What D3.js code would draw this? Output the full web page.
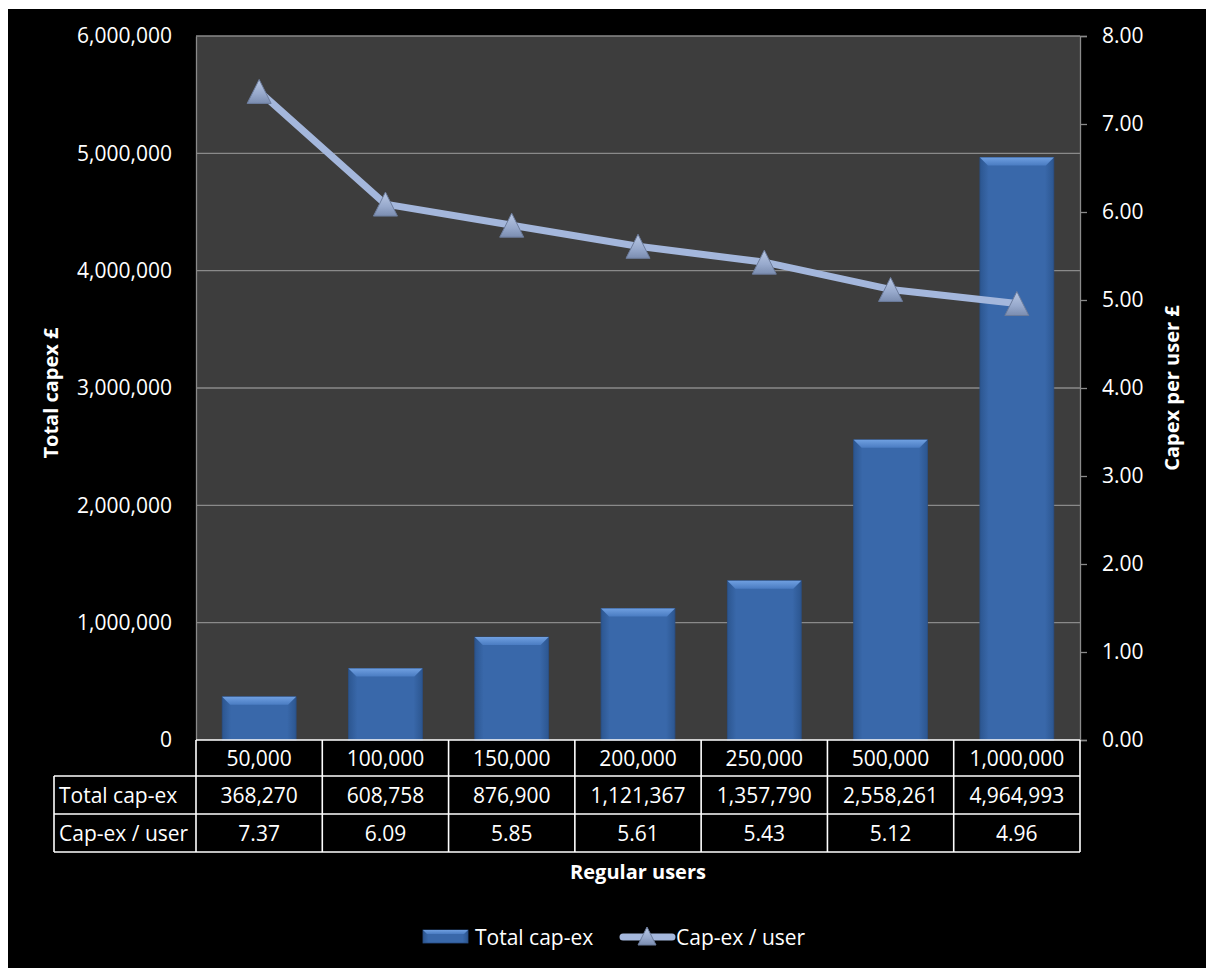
<!DOCTYPE html>
<html>
<head>
<meta charset="utf-8">
<script src="https://cdn.jsdelivr.net/npm/d3@7"></script>
<style>
  html, body { margin: 0; padding: 0; background: #fff; }
  svg { display: block; }
  text { font-family: 'Open Sans', sans-serif; fill: #fff; }
</style>
</head>
<body>
<svg id="svg" width="1206" height="968"></svg>
<script>
const categories = ['50,000', '100,000', '150,000', '200,000', '250,000', '500,000', '1,000,000'];
const totalCapex = [368270, 608758, 876900, 1121367, 1357790, 2558261, 4964993];
const capexPerUser = [7.37, 6.09, 5.85, 5.61, 5.43, 5.12, 4.96];
const leftTicks = [0, 1000000, 2000000, 3000000, 4000000, 5000000, 6000000];
const rightTicks = [0, 1, 2, 3, 4, 5, 6, 7, 8];
const rowLabels = ['Total cap-ex', 'Cap-ex / user'];

const svg = d3.select('#svg');
const plot = { left: 196, right: 1080, top: 36, bottom: 740 };

const fmtInt = d3.format(',');
const fmt2 = d3.format('.2f');

// background
svg.append('rect').attr('x', 8).attr('y', 9).attr('width', 1198).attr('height', 959).attr('fill', '#000');

const defs = svg.append('defs');
const barGrad = defs.append('linearGradient').attr('id', 'barGrad').attr('x1', 0).attr('x2', 1).attr('y1', 0).attr('y2', 0);
barGrad.append('stop').attr('offset', 0).attr('stop-color', '#2c5690');
barGrad.append('stop').attr('offset', 0.12).attr('stop-color', '#3968aa');
barGrad.append('stop').attr('offset', 0.88).attr('stop-color', '#3968aa');
barGrad.append('stop').attr('offset', 1).attr('stop-color', '#2c5690');

const bevelGrad = defs.append('linearGradient').attr('id', 'bevelGrad').attr('x1', 0).attr('x2', 0).attr('y1', 0).attr('y2', 1);
bevelGrad.append('stop').attr('offset', 0).attr('stop-color', '#6f9fe0');
bevelGrad.append('stop').attr('offset', 1).attr('stop-color', '#4a7cc2');

const triGrad = defs.append('linearGradient').attr('id', 'triGrad').attr('x1', 0).attr('x2', 0).attr('y1', 0).attr('y2', 1);
triGrad.append('stop').attr('offset', 0).attr('stop-color', '#b9c8e4');
triGrad.append('stop').attr('offset', 0.6).attr('stop-color', '#97a9cc');
triGrad.append('stop').attr('offset', 1).attr('stop-color', '#7b8db0');

// scales
const x = d3.scaleBand().domain(categories).range([plot.left, plot.right]).paddingInner(0.415).paddingOuter(0.2075);
const xCell = d3.scaleBand().domain(categories).range([plot.left, plot.right]);
const yLeft = d3.scaleLinear().domain([0, 6000000]).range([plot.bottom, plot.top]);
const yRight = d3.scaleLinear().domain([0, 8]).range([plot.bottom, plot.top]);

// plot area
svg.append('rect')
  .attr('x', plot.left).attr('y', plot.top)
  .attr('width', plot.right - plot.left).attr('height', plot.bottom - plot.top)
  .attr('fill', '#3d3d3d');

svg.append('g').selectAll('line').data(leftTicks.filter((d) => d > 0)).join('line')
  .attr('x1', plot.left).attr('x2', plot.right)
  .attr('y1', (d) => yLeft(d)).attr('y2', (d) => yLeft(d))
  .attr('stroke', '#8a8a8a').attr('stroke-width', 1.3);

// left axis
const leftAxis = svg.append('g').attr('transform', 'translate(' + plot.left + ',0)')
  .call(d3.axisLeft(yLeft).tickValues(leftTicks).tickSize(0).tickPadding(24).tickFormat(fmtInt));
leftAxis.select('.domain').attr('stroke', '#8a8a8a').attr('stroke-width', 1.3);
leftAxis.selectAll('text').attr('font-size', 21).attr('fill', '#fff').attr('font-family', 'Open Sans');

// right axis
const rightAxis = svg.append('g').attr('transform', 'translate(' + plot.right + ',0)')
  .call(d3.axisRight(yRight).tickValues(rightTicks).tickSize(7).tickPadding(15).tickFormat(fmt2));
rightAxis.select('.domain').attr('stroke', '#8a8a8a').attr('stroke-width', 1.3);
rightAxis.selectAll('.tick line').attr('stroke', '#8a8a8a').attr('stroke-width', 1.3);
rightAxis.selectAll('text').attr('font-size', 21).attr('fill', '#fff').attr('font-family', 'Open Sans');

// bars
const bars = svg.append('g').selectAll('g').data(categories).join('g');
const bw = x.bandwidth();
const bev = 8;
bars.append('rect')
  .attr('x', (d) => x(d)).attr('y', (d, i) => yLeft(totalCapex[i]))
  .attr('width', bw).attr('height', (d, i) => plot.bottom - yLeft(totalCapex[i]))
  .attr('fill', 'url(#barGrad)')
  .attr('stroke', '#2a4f85').attr('stroke-width', 0.8);
bars.append('polygon')
  .attr('points', (d, i) => {
    const x0 = x(d);
    const y0 = yLeft(totalCapex[i]);
    return [[x0, y0], [x0 + bw, y0], [x0 + bw - bev, y0 + bev], [x0 + bev, y0 + bev]].map((p) => p.join(',')).join(' ');
  })
  .attr('fill', 'url(#bevelGrad)');

// line series
const lineGen = d3.line().x((d, i) => x(categories[i]) + bw / 2).y((d) => yRight(d));
svg.append('path').datum(capexPerUser)
  .attr('d', lineGen)
  .attr('fill', 'none').attr('stroke', '#a4b7dc').attr('stroke-width', 7)
  .attr('stroke-linejoin', 'round');

const triangle = (s) => 'M0,' + (-s / 2) + 'L' + (s / 2) + ',' + (s / 2) + 'L' + (-s / 2) + ',' + (s / 2) + 'Z';
svg.append('g').selectAll('path').data(capexPerUser).join('path')
  .attr('transform', (d, i) => 'translate(' + (x(categories[i]) + bw / 2) + ',' + yRight(d) + ')')
  .attr('d', triangle(24))
  .attr('fill', 'url(#triGrad)').attr('stroke', '#6c7c9c').attr('stroke-width', 1);

// data table
const rows = [plot.bottom, 776, 814, 852];
const tbl = svg.append('g').attr('stroke', '#fff').attr('stroke-width', 1.6);
tbl.append('line').attr('x1', plot.left).attr('x2', plot.right).attr('y1', rows[0]).attr('y2', rows[0]);
[rows[1], rows[2], rows[3]].forEach((r) => {
  tbl.append('line').attr('x1', 54).attr('x2', plot.right).attr('y1', r).attr('y2', r);
});
tbl.append('line').attr('x1', 54).attr('x2', 54).attr('y1', rows[1]).attr('y2', rows[3]);
tbl.selectAll('line.v').data(categories.concat(['end'])).join('line').attr('class', 'v')
  .attr('x1', (d) => d === 'end' ? plot.right : xCell(d))
  .attr('x2', (d) => d === 'end' ? plot.right : xCell(d))
  .attr('y1', rows[0]).attr('y2', rows[3]);

const cellText = svg.append('g').attr('font-size', 21).attr('text-anchor', 'middle');
cellText.selectAll('text.h').data(categories).join('text').attr('class', 'h')
  .attr('x', (d) => xCell(d) + xCell.bandwidth() / 2).attr('y', (rows[0] + rows[1]) / 2).attr('dy', '0.36em')
  .text((d) => d);
cellText.selectAll('text.t').data(totalCapex).join('text').attr('class', 't')
  .attr('x', (d, i) => xCell(categories[i]) + xCell.bandwidth() / 2).attr('y', (rows[1] + rows[2]) / 2).attr('dy', '0.36em')
  .text((d) => fmtInt(d));
cellText.selectAll('text.u').data(capexPerUser).join('text').attr('class', 'u')
  .attr('x', (d, i) => xCell(categories[i]) + xCell.bandwidth() / 2).attr('y', (rows[2] + rows[3]) / 2).attr('dy', '0.36em')
  .text((d) => fmt2(d));
svg.append('g').attr('font-size', 21).selectAll('text').data(rowLabels).join('text')
  .attr('x', 59).attr('y', (d, i) => (rows[i + 1] + rows[i + 2]) / 2).attr('dy', '0.36em')
  .text((d) => d);

// axis titles
svg.append('text').attr('transform', 'translate(51,393) rotate(-90)')
  .attr('text-anchor', 'middle').attr('dy', '0.36em').attr('font-size', 20).attr('font-weight', 'bold')
  .text('Total capex £');
svg.append('text').attr('transform', 'translate(1172,388) rotate(-90)')
  .attr('text-anchor', 'middle').attr('dy', '0.36em').attr('font-size', 20).attr('font-weight', 'bold')
  .text('Capex per user £');
svg.append('text').attr('x', 638).attr('y', 872)
  .attr('text-anchor', 'middle').attr('dy', '0.36em').attr('font-size', 20).attr('font-weight', 'bold')
  .text('Regular users');

// legend
const legend = svg.append('g');
legend.append('rect').attr('x', 423).attr('y', 930).attr('width', 45).attr('height', 13)
  .attr('fill', 'url(#barGrad)').attr('stroke', '#2a4f85').attr('stroke-width', 0.8);
legend.append('polygon').attr('points', '423,930 468,930 464,934 427,934').attr('fill', 'url(#bevelGrad)');
legend.append('text').attr('x', 475).attr('y', 937).attr('dy', '0.36em').attr('font-size', 21).text('Total cap-ex');
legend.append('line').attr('x1', 623).attr('x2', 672).attr('y1', 937).attr('y2', 937)
  .attr('stroke', '#a4b7dc').attr('stroke-width', 7).attr('stroke-linecap', 'round');
legend.append('path').attr('transform', 'translate(647,936)').attr('d', triangle(18))
  .attr('fill', 'url(#triGrad)').attr('stroke', '#6c7c9c').attr('stroke-width', 1);
legend.append('text').attr('x', 676).attr('y', 937).attr('dy', '0.36em').attr('font-size', 21).text('Cap-ex / user');
</script>
</body>
</html>
